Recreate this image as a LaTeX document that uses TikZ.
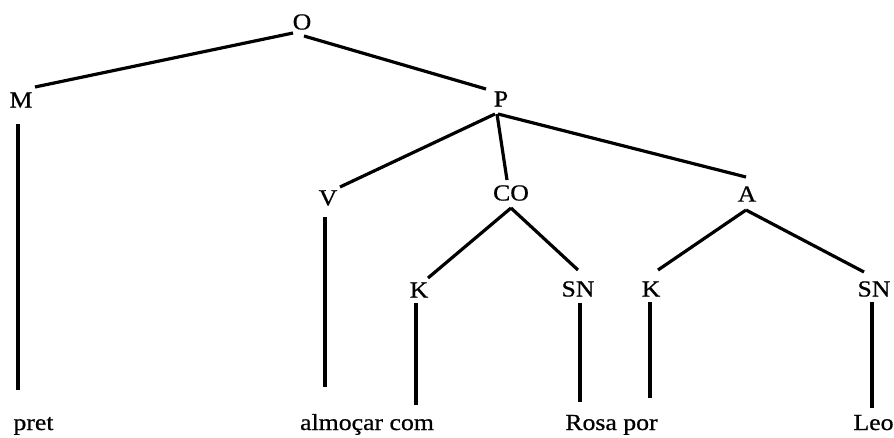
\documentclass[tikz,border=0pt]{standalone}
\usepackage{fontspec}
\setmainfont{Liberation Serif}[FakeStretch=1.12,FakeBold=0.7]
\begin{document}
\begin{tikzpicture}[x=1pt,y=-1pt,
  lab/.style={inner sep=0pt,outer sep=0pt,font=\fontsize{23}{27}\selectfont},
  word/.style={inner sep=0pt,outer sep=0pt,anchor=base,font=\fontsize{23}{27}\selectfont},
  edge/.style={line width=3.2pt}]
\fill[white] (0,0) rectangle (894,437);
\useasboundingbox (0,0) rectangle (894,437);
% category nodes
\node[lab] (O) at (302,22) {O};
\node[lab] (M) at (21,100) {M};
\node[lab] (P) at (501,99) {P};
\node[lab] (V) at (328,198) {V};
\node[lab] (CO) at (511,193) {CO};
\node[lab] (A) at (747,194) {A};
\node[lab] (K1) at (419,290) {K};
\node[lab] (SN1) at (578,289) {SN};
\node[lab] (K2) at (651,289) {K};
\node[lab] (SN2) at (874,289) {SN};
% words
\node[word] (pret) at (33.5,430) {pret};
\node[word] (alm) at (367,430) {almoçar com};
\node[word] (rosa) at (611.5,430) {Rosa por};
\node[word] (leo) at (873.5,430) {Leo};
% connectors
\draw[edge] ([shift={(-9,11)}]O.center) -- ([shift={(14,-13)}]M.center);
\draw[edge] ([shift={(2,14)}]O.center) -- ([shift={(-15,-10)}]P.center);
\draw[edge] ([shift={(-3,24)}]M.center) -- ([shift={(-15.5,-40)}]pret.base);
\draw[edge] ([shift={(-6,15)}]P.center) -- ([shift={(12,-11)}]V.center);
\draw[edge] ([shift={(-4,15)}]P.center) -- ([shift={(-4,-13)}]CO.center);
\draw[edge] ([shift={(-3,15)}]P.center) -- ([shift={(-1,-17)}]A.center);
\draw[edge] ([shift={(-3,19)}]V.center) -- ([shift={(-42,-43)}]alm.base);
\draw[edge] ([shift={(0,15)}]CO.center) -- ([shift={(9,-12)}]K1.center);
\draw[edge] ([shift={(0,15)}]CO.center) -- ([shift={(0,-19)}]SN1.center);
\draw[edge] ([shift={(-1,16)}]A.center) -- ([shift={(7,-19)}]K2.center);
\draw[edge] ([shift={(-1,16)}]A.center) -- ([shift={(-10,-17)}]SN2.center);
\draw[edge] ([shift={(-3,13)}]K1.center) -- ([shift={(49,-25)}]alm.base);
\draw[edge] ([shift={(2,14)}]SN1.center) -- ([shift={(-31.5,-28)}]rosa.base);
\draw[edge] ([shift={(-1,13)}]K2.center) -- ([shift={(38.5,-32)}]rosa.base);
\draw[edge] ([shift={(-2,13)}]SN2.center) -- ([shift={(-1.5,-22)}]leo.base);
\end{tikzpicture}
\end{document}
